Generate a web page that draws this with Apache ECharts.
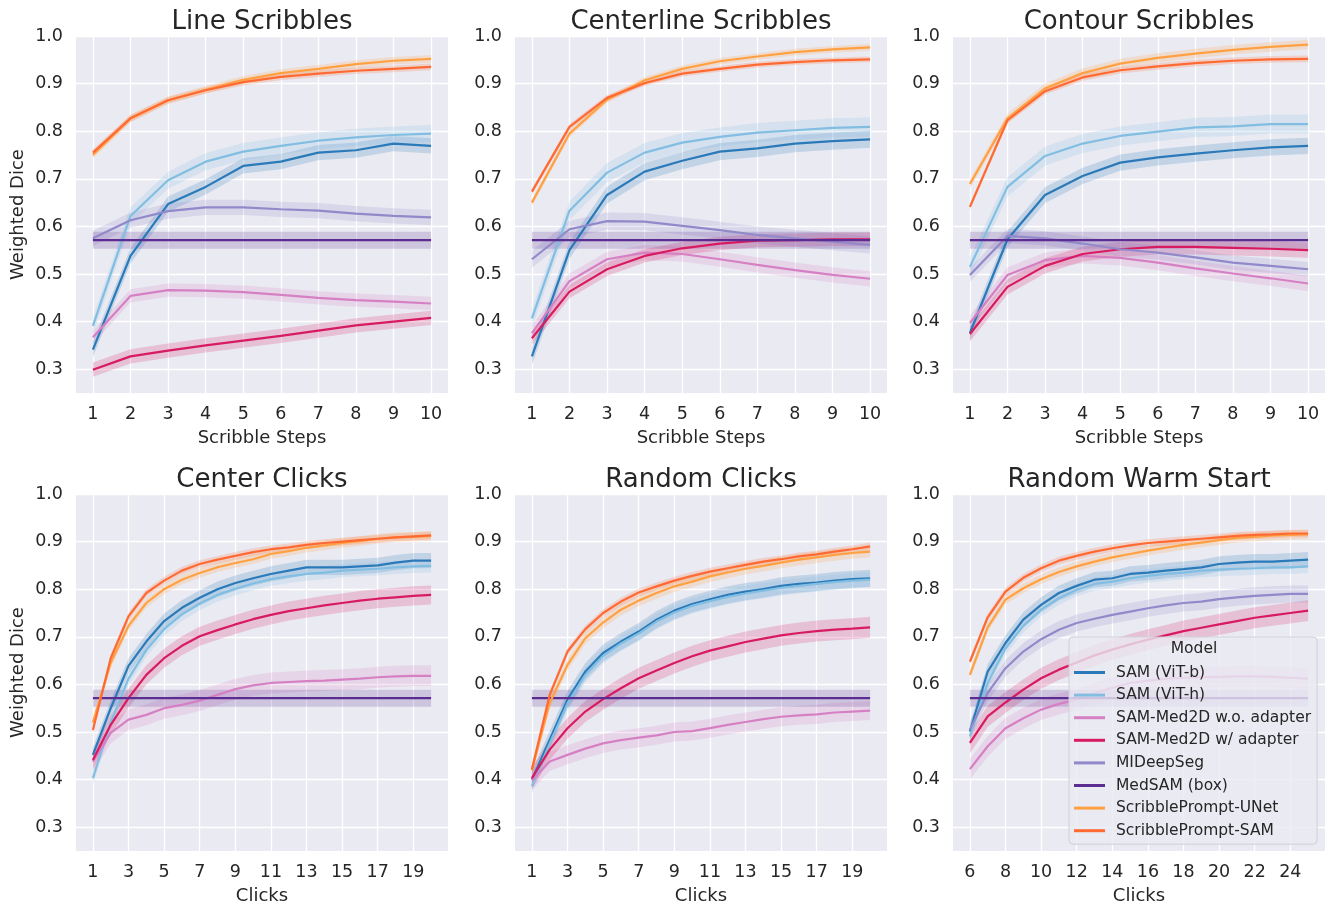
<!DOCTYPE html>
<html>
<head>
<meta charset="utf-8">
<title>Weighted Dice</title>
<script src="https://cdn.jsdelivr.net/npm/echarts@6/dist/echarts.min.js"></script>
<style>
html, body { margin: 0; padding: 0; background: #fff; }
#main { width: 1335px; height: 909px; }
</style>
</head>
<body>
<div id="main"></div>
<script>
// models, legend order
var models = ['SAM (ViT-b)', 'SAM (ViT-h)', 'SAM-Med2D w.o. adapter', 'SAM-Med2D w/ adapter',
    'MIDeepSeg', 'MedSAM (box)', 'ScribblePrompt-UNet', 'ScribblePrompt-SAM'];
var colors = ['#2a7ab9', '#82bee2', '#d680c4', '#d81b60', '#9189c9', '#5b2c91', '#ffa142', '#ff6a33'];

// x values + tick labels
var scribbleSteps = [1, 2, 3, 4, 5, 6, 7, 8, 9, 10];
var clickSteps = [1, 2, 3, 4, 5, 6, 7, 8, 9, 10, 11, 12, 13, 14, 15, 16, 17, 18, 19, 20];
var warmSteps = [6, 7, 8, 9, 10, 11, 12, 13, 14, 15, 16, 17, 18, 19, 20, 21, 22, 23, 24, 25];
var scribbleTicks = [1, 2, 3, 4, 5, 6, 7, 8, 9, 10];
var clickTicks = [1, 3, 5, 7, 9, 11, 13, 15, 17, 19];
var warmTicks = [6, 8, 10, 12, 14, 16, 18, 20, 22, 24];
var diceTicks = [0.3, 0.4, 0.5, 0.6, 0.7, 0.8, 0.9, 1.0];

// Line Scribbles
var lineVitB = [0.341, 0.538, 0.647, 0.683, 0.727, 0.736, 0.755, 0.760, 0.774, 0.769];
var lineVitH = [0.391, 0.622, 0.697, 0.736, 0.757, 0.769, 0.780, 0.787, 0.792, 0.795];
var lineMedNoAd = [0.367, 0.454, 0.466, 0.465, 0.462, 0.456, 0.450, 0.445, 0.442, 0.438];
var lineMedAd = [0.299, 0.327, 0.339, 0.350, 0.360, 0.370, 0.381, 0.392, 0.400, 0.408];
var lineMid = [0.575, 0.613, 0.632, 0.640, 0.640, 0.636, 0.633, 0.627, 0.622, 0.619];
var lineMedsam = [0.571, 0.571, 0.571, 0.571, 0.571, 0.571, 0.571, 0.571, 0.571, 0.571];
var lineUnet = [0.750, 0.827, 0.865, 0.887, 0.908, 0.922, 0.931, 0.941, 0.948, 0.952];
var lineSpSam = [0.755, 0.827, 0.865, 0.886, 0.903, 0.914, 0.921, 0.927, 0.931, 0.935];
var lineBand = [0.016, 0.018, 0.014, 0.015, 0.016, 0.018, 0.008, 0.007];

// Centerline Scribbles
var centVitB = [0.327, 0.550, 0.666, 0.715, 0.738, 0.757, 0.764, 0.774, 0.779, 0.783];
var centVitH = [0.407, 0.633, 0.713, 0.755, 0.776, 0.788, 0.797, 0.802, 0.807, 0.809];
var centMedNoAd = [0.376, 0.485, 0.531, 0.545, 0.542, 0.531, 0.519, 0.508, 0.498, 0.490];
var centMedAd = [0.365, 0.463, 0.510, 0.538, 0.554, 0.564, 0.570, 0.571, 0.573, 0.573];
var centMid = [0.531, 0.594, 0.611, 0.610, 0.601, 0.592, 0.582, 0.575, 0.568, 0.561];
var centMedsam = [0.571, 0.571, 0.571, 0.571, 0.571, 0.571, 0.571, 0.571, 0.571, 0.571];
var centUnet = [0.650, 0.795, 0.866, 0.907, 0.931, 0.947, 0.957, 0.966, 0.972, 0.976];
var centSpSam = [0.673, 0.809, 0.870, 0.901, 0.921, 0.931, 0.940, 0.945, 0.949, 0.951];
var centBand = [0.018, 0.020, 0.016, 0.014, 0.018, 0.018, 0.007, 0.006];

// Contour Scribbles
var contVitB = [0.376, 0.573, 0.666, 0.706, 0.734, 0.745, 0.753, 0.760, 0.766, 0.769];
var contVitH = [0.515, 0.683, 0.748, 0.774, 0.790, 0.799, 0.808, 0.810, 0.815, 0.815];
var contMedNoAd = [0.397, 0.498, 0.529, 0.538, 0.534, 0.524, 0.512, 0.501, 0.491, 0.480];
var contMedAd = [0.374, 0.473, 0.517, 0.542, 0.552, 0.557, 0.557, 0.555, 0.553, 0.550];
var contMid = [0.498, 0.580, 0.575, 0.564, 0.552, 0.545, 0.535, 0.524, 0.517, 0.510];
var contMedsam = [0.571, 0.571, 0.571, 0.571, 0.571, 0.571, 0.571, 0.571, 0.571, 0.571];
var contUnet = [0.689, 0.827, 0.890, 0.922, 0.942, 0.954, 0.963, 0.971, 0.977, 0.982];
var contSpSam = [0.641, 0.823, 0.884, 0.913, 0.928, 0.936, 0.943, 0.948, 0.951, 0.952];
var contBand = [0.017, 0.020, 0.016, 0.016, 0.015, 0.018, 0.010, 0.007];

// Center Clicks
var ccVitB = [0.452, 0.550, 0.639, 0.690, 0.733, 0.761, 0.782, 0.800, 0.813, 0.823, 0.832, 0.839, 0.846, 0.846, 0.846, 0.848, 0.850, 0.856, 0.860, 0.860];
var ccVitH = [0.403, 0.520, 0.612, 0.672, 0.716, 0.747, 0.770, 0.788, 0.801, 0.812, 0.821, 0.827, 0.832, 0.835, 0.839, 0.841, 0.843, 0.846, 0.848, 0.849];
var ccMedNoAd = [0.438, 0.498, 0.526, 0.536, 0.550, 0.557, 0.566, 0.578, 0.590, 0.598, 0.603, 0.605, 0.607, 0.608, 0.610, 0.612, 0.615, 0.617, 0.618, 0.618];
var ccMedAd = [0.441, 0.515, 0.571, 0.620, 0.655, 0.681, 0.701, 0.714, 0.726, 0.737, 0.746, 0.754, 0.760, 0.766, 0.771, 0.776, 0.780, 0.783, 0.786, 0.788];
var ccMedsam = [0.571, 0.571, 0.571, 0.571, 0.571, 0.571, 0.571, 0.571, 0.571, 0.571, 0.571, 0.571, 0.571, 0.571, 0.571, 0.571, 0.571, 0.571, 0.571, 0.571];
var ccUnet = [0.520, 0.645, 0.723, 0.771, 0.800, 0.820, 0.834, 0.846, 0.855, 0.863, 0.874, 0.880, 0.887, 0.892, 0.897, 0.901, 0.906, 0.909, 0.910, 0.912];
var ccSpSam = [0.504, 0.655, 0.743, 0.792, 0.818, 0.839, 0.853, 0.862, 0.870, 0.878, 0.884, 0.888, 0.893, 0.897, 0.900, 0.903, 0.906, 0.909, 0.911, 0.913];
var ccBand = [0.016, 0.014, 0.022, 0.020, 0, 0.018, 0.010, 0.008];

// Random Clicks
var rcVitB = [0.400, 0.484, 0.568, 0.627, 0.666, 0.690, 0.711, 0.736, 0.755, 0.769, 0.779, 0.788, 0.795, 0.800, 0.807, 0.811, 0.814, 0.818, 0.821, 0.823];
var rcVitH = [0.386, 0.476, 0.560, 0.620, 0.660, 0.686, 0.707, 0.732, 0.751, 0.765, 0.775, 0.784, 0.791, 0.797, 0.803, 0.807, 0.811, 0.815, 0.818, 0.820];
var rcMedNoAd = [0.398, 0.438, 0.452, 0.465, 0.476, 0.483, 0.488, 0.493, 0.500, 0.502, 0.508, 0.515, 0.521, 0.527, 0.532, 0.535, 0.537, 0.541, 0.543, 0.545];
var rcMedAd = [0.403, 0.463, 0.508, 0.543, 0.569, 0.592, 0.613, 0.629, 0.645, 0.659, 0.671, 0.680, 0.689, 0.696, 0.703, 0.708, 0.712, 0.715, 0.717, 0.720];
var rcMedsam = [0.571, 0.571, 0.571, 0.571, 0.571, 0.571, 0.571, 0.571, 0.571, 0.571, 0.571, 0.571, 0.571, 0.571, 0.571, 0.571, 0.571, 0.571, 0.571, 0.571];
var rcUnet = [0.420, 0.561, 0.641, 0.697, 0.730, 0.757, 0.776, 0.792, 0.806, 0.816, 0.827, 0.835, 0.843, 0.849, 0.856, 0.862, 0.867, 0.872, 0.876, 0.879];
var rcSpSam = [0.421, 0.578, 0.669, 0.716, 0.750, 0.774, 0.793, 0.806, 0.818, 0.828, 0.837, 0.844, 0.851, 0.858, 0.863, 0.869, 0.873, 0.879, 0.884, 0.890];
var rcBand = [0.018, 0.016, 0.020, 0.022, 0, 0.018, 0.012, 0.008];

// Random Warm Start
var wsVitB = [0.501, 0.627, 0.687, 0.736, 0.767, 0.792, 0.807, 0.820, 0.823, 0.832, 0.835, 0.839, 0.842, 0.846, 0.853, 0.856, 0.858, 0.858, 0.860, 0.862];
var wsVitH = [0.491, 0.603, 0.676, 0.723, 0.757, 0.781, 0.799, 0.811, 0.816, 0.823, 0.828, 0.832, 0.835, 0.839, 0.841, 0.843, 0.844, 0.846, 0.846, 0.848];
var wsMedNoAd = [0.422, 0.470, 0.508, 0.529, 0.547, 0.559, 0.568, 0.582, 0.593, 0.603, 0.608, 0.612, 0.614, 0.615, 0.616, 0.617, 0.617, 0.616, 0.614, 0.612];
var wsMedAd = [0.477, 0.533, 0.562, 0.589, 0.613, 0.631, 0.646, 0.661, 0.673, 0.684, 0.694, 0.703, 0.712, 0.719, 0.726, 0.733, 0.740, 0.745, 0.750, 0.755];
var wsMid = [0.505, 0.582, 0.634, 0.669, 0.695, 0.715, 0.729, 0.738, 0.746, 0.753, 0.760, 0.766, 0.771, 0.774, 0.779, 0.783, 0.786, 0.788, 0.790, 0.790];
var wsMedsam = [0.571, 0.571, 0.571, 0.571, 0.571, 0.571, 0.571, 0.571, 0.571, 0.571, 0.571, 0.571, 0.571, 0.571, 0.571, 0.571, 0.571, 0.571, 0.571, 0.571];
var wsUnet = [0.620, 0.720, 0.778, 0.802, 0.821, 0.836, 0.848, 0.858, 0.867, 0.874, 0.881, 0.887, 0.893, 0.898, 0.903, 0.908, 0.910, 0.913, 0.914, 0.915];
var wsSpSam = [0.648, 0.741, 0.795, 0.824, 0.844, 0.860, 0.870, 0.879, 0.886, 0.892, 0.897, 0.900, 0.903, 0.906, 0.909, 0.912, 0.914, 0.915, 0.917, 0.917];
var wsBand = [0.016, 0.014, 0.022, 0.022, 0.018, 0.018, 0.010, 0.008];

var FONT = 'DejaVu Sans';
var INK = '#262626';

var panels = [
    { title: 'Line Scribbles', xName: 'Scribble Steps', x: scribbleSteps, ticks: scribbleTicks, min: 0.55, max: 10.45, left: 76, top: 36,
      vals: [lineVitB, lineVitH, lineMedNoAd, lineMedAd, lineMid, lineMedsam, lineUnet, lineSpSam], band: lineBand },
    { title: 'Centerline Scribbles', xName: 'Scribble Steps', x: scribbleSteps, ticks: scribbleTicks, min: 0.55, max: 10.45, left: 515, top: 36,
      vals: [centVitB, centVitH, centMedNoAd, centMedAd, centMid, centMedsam, centUnet, centSpSam], band: centBand },
    { title: 'Contour Scribbles', xName: 'Scribble Steps', x: scribbleSteps, ticks: scribbleTicks, min: 0.55, max: 10.45, left: 953, top: 36,
      vals: [contVitB, contVitH, contMedNoAd, contMedAd, contMid, contMedsam, contUnet, contSpSam], band: contBand },
    { title: 'Center Clicks', xName: 'Clicks', x: clickSteps, ticks: clickTicks, min: 0.05, max: 20.95, left: 76, top: 494,
      vals: [ccVitB, ccVitH, ccMedNoAd, ccMedAd, null, ccMedsam, ccUnet, ccSpSam], band: ccBand },
    { title: 'Random Clicks', xName: 'Clicks', x: clickSteps, ticks: clickTicks, min: 0.05, max: 20.95, left: 515, top: 494,
      vals: [rcVitB, rcVitH, rcMedNoAd, rcMedAd, null, rcMedsam, rcUnet, rcSpSam], band: rcBand },
    { title: 'Random Warm Start', xName: 'Clicks', x: warmSteps, ticks: warmTicks, min: 5.05, max: 25.95, left: 953, top: 494,
      vals: [wsVitB, wsVitH, wsMedNoAd, wsMedAd, wsMid, wsMedsam, wsUnet, wsSpSam], band: wsBand }
];

var GW = 372, GH = 357;

function fade(hex, a) {
    var n = parseInt(hex.slice(1), 16);
    return 'rgba(' + (n >> 16) + ',' + ((n >> 8) & 255) + ',' + (n & 255) + ',' + a + ')';
}

// ci band: one polygon, drawn on the first item only
function makeBand(color, pts) {
    return function (params, api) {
        if (params.dataIndex !== 0) return null;
        var upper = [], lower = [];
        for (var j = 0; j < pts.length; j++) {
            upper.push(api.coord([pts[j][0], pts[j][2]]));
            lower.unshift(api.coord([pts[j][0], pts[j][1]]));
        }
        return {
            type: 'polygon',
            shape: { points: upper.concat(lower) },
            style: { fill: fade(color, 0.2) }
        };
    };
}

var option = {
    backgroundColor: '#ffffff',
    animation: false,
    grid: [], xAxis: [], yAxis: [], series: [], graphic: []
};

panels.forEach(function (p, i) {
    option.grid.push({
        left: p.left, top: p.top, width: GW, height: GH,
        show: true, backgroundColor: '#eaeaf2', borderWidth: 0,
        containLabel: false, outerBoundsMode: 'none'
    });
    option.xAxis.push({
        gridIndex: i, type: 'value', min: p.min, max: p.max,
        name: p.xName, nameLocation: 'middle', nameGap: 36,
        nameTextStyle: { fontFamily: FONT, fontSize: 18, color: INK },
        axisLine: { show: false },
        axisTick: { show: false, customValues: p.ticks },
        axisLabel: { customValues: p.ticks, fontFamily: FONT, fontSize: 17.5, color: INK, margin: 12 },
        splitLine: { show: true, lineStyle: { color: '#ffffff', width: 1.3 } }
    });
    option.yAxis.push({
        gridIndex: i, type: 'value', min: 0.25, max: 1.0,
        name: i % 3 === 0 ? 'Weighted Dice' : '', nameLocation: 'middle', nameGap: 49,
        nameTextStyle: { fontFamily: FONT, fontSize: 18, color: INK },
        axisLine: { show: false },
        axisTick: { show: false, customValues: diceTicks },
        axisLabel: {
            customValues: diceTicks, fontFamily: FONT, fontSize: 17.5, color: INK, margin: 13,
            formatter: function (v) { return v.toFixed(1); }
        },
        splitLine: { show: true, lineStyle: { color: '#ffffff', width: 1.3 } }
    });
    option.graphic.push({
        type: 'text', x: p.left + GW / 2, y: p.top - 14,
        style: {
            text: p.title, fontFamily: FONT, fontSize: 26, fill: INK,
            align: 'center', verticalAlign: 'middle', textAlign: 'center', textVerticalAlign: 'middle'
        }
    });

    p.vals.forEach(function (vals, k) {
        if (!vals) return;
        var bw = p.band[k];
        var pts = p.x.map(function (xv, j) { return [xv, vals[j] - bw, vals[j] + bw]; });
        option.series.push({
            type: 'custom', xAxisIndex: i, yAxisIndex: i, silent: true, z: 2,
            data: pts, encode: { x: 0, y: [1, 2] },
            renderItem: makeBand(colors[k], pts)
        });
        option.series.push({
            name: models[k], type: 'line', xAxisIndex: i, yAxisIndex: i, z: 3,
            data: p.x.map(function (xv, j) { return [xv, vals[j]]; }),
            symbol: 'none', silent: true,
            lineStyle: { color: colors[k], width: 2.2 },
            itemStyle: { color: colors[k] }
        });
    });
});

option.legend = {
    data: models, orient: 'vertical', left: 1069, top: 637,
    padding: [27, 6, 5, 5], itemWidth: 31, itemHeight: 3, icon: 'rect', itemGap: 5.6,
    backgroundColor: 'rgba(234,234,242,0.8)', borderColor: '#cfcfd8', borderWidth: 1, borderRadius: 4,
    selectedMode: false,
    textStyle: { fontFamily: FONT, fontSize: 15.5, color: INK, lineHeight: 17, padding: [0, 0, 0, 6] }
};
option.graphic.push({
    type: 'text', x: 1194, y: 649, z: 100,
    style: {
        text: 'Model', fontFamily: FONT, fontSize: 15.5, fill: INK,
        align: 'center', verticalAlign: 'middle', textAlign: 'center', textVerticalAlign: 'middle'
    }
});

var chart = echarts.init(document.getElementById('main'), null, { renderer: 'canvas' });
chart.setOption(option);
</script>
</body>
</html>
